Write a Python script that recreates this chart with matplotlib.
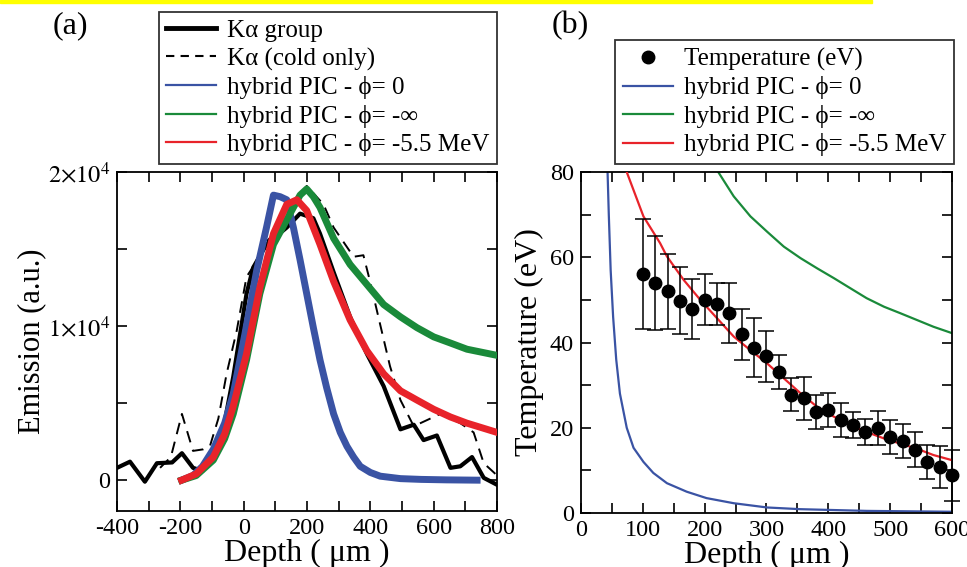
import matplotlib
matplotlib.use('Agg')
import matplotlib.pyplot as plt
from matplotlib.lines import Line2D
from matplotlib.patches import Rectangle
from matplotlib.ticker import MultipleLocator, FixedLocator, FixedFormatter

plt.rcParams['font.family'] = ['Liberation Serif', 'DejaVu Serif']
plt.rcParams['mathtext.fontset'] = 'stix'
plt.rcParams['axes.unicode_minus'] = False

BLUE = "#3a53a4"
GREEN = "#1a8a3a"
RED = "#e8232a"

# ---- panel (a): emission vs depth ----
KA_GROUP_X = [-400, -359, -312, -274, -226, -195, -160, -130, -96, -60, -33, 9, 30, 72, 136,
              178, 220, 241, 284, 336, 389, 442, 495, 537, 568, 610, 653, 684, 721, 758, 800]
KA_GROUP_Y = [800, 1200, -100, 1100, 1150, 1750, 800, 600, 1500, 3800, 6700, 12100, 13800,
              15300, 16400, 17300, 17000, 16000, 13500, 10600, 8200, 6100, 3300, 3600, 2600,
              2900, 800, 900, 1500, 150, -300]

KA_COLD_X = [-264, -230, -195, -160, -128, -106, -80, -54, -22, 9, 41, 72, 136, 199, 252, 284,
             347, 378, 399, 431, 462, 495, 537, 579, 621, 684, 726, 758, 790, 800]
KA_COLD_Y = [800, 1500, 4300, 1900, 2000, 2250, 4000, 6900, 9700, 13200, 14200, 15500, 16800,
             19100, 17900, 16400, 14500, 14600, 12900, 10100, 7400, 5200, 3500, 3900, 4300,
             3700, 3100, 1100, 500, 300]

PIC0_X = [-196, -160, -130, -96, -60, -33, 4, 41, 72, 94, 115, 136, 157, 178, 199, 220, 241,
          262, 284, 305, 326, 347, 368, 400, 431, 495, 560, 640, 737]
PIC0_Y = [0, 300, 900, 2000, 3700, 5600, 9500, 13600, 16400, 18500, 18400, 18200, 16400, 14300,
          12100, 9900, 7800, 6000, 4300, 3100, 2200, 1500, 900, 500, 260, 100, 50, 20, 0]

PICINF_X = [-196, -150, -96, -60, -33, 9, 51, 94, 136, 178, 199, 220, 241, 284, 336, 389, 442,
            495, 547, 600, 653, 705, 800]
PICINF_Y = [0, 300, 1300, 2700, 4300, 7800, 12100, 15300, 16900, 18500, 18900, 18400, 17700,
            15700, 14000, 12700, 11400, 10600, 9900, 9300, 8900, 8500, 8100]

PIC55_X = [-196, -150, -96, -60, -33, 9, 51, 94, 136, 168, 199, 241, 284, 336, 389, 442, 495,
           547, 600, 653, 705, 800]
PIC55_Y = [0, 400, 1500, 3000, 4800, 8200, 12500, 16000, 17900, 18200, 17500, 15300, 12900,
           10400, 8400, 6900, 5800, 5200, 4600, 4100, 3700, 3100]

# ---- panel (b): temperature vs depth ----
TEMP_X = [100, 120, 140, 160, 180, 200, 220, 240, 260, 280, 300, 320, 340, 360, 380, 400, 420,
          440, 460, 480, 500, 520, 540, 560, 580, 600]
TEMP_Y = [56.0, 53.9, 52.0, 49.8, 47.8, 50.0, 49.0, 46.9, 41.9, 38.8, 36.8, 33.0, 27.8, 26.9,
          23.7, 24.1, 21.8, 20.6, 19.0, 20.0, 17.9, 16.8, 14.9, 12.0, 10.8, 8.9]
TEMP_ERR = [12.9, 11.0, 8.8, 7.9, 7.0, 6.0, 5.0, 7.0, 6.0, 7.0, 6.0, 4.0, 3.8, 5.0, 4.0, 4.0,
            4.0, 3.0, 3.0, 4.0, 4.0, 4.0, 4.0, 4.0, 5.0, 6.0]

T_PIC0_X = [42, 45, 48, 52, 57, 63, 74, 85, 101, 117, 139, 171, 203, 247, 301, 355, 462, 600]
T_PIC0_Y = [85, 70, 57, 46, 36, 28, 20, 15.3, 12, 9.4, 7, 5, 3.5, 2.3, 1.3, 0.9, 0.5, 0.3]

T_PIC55_X = [70, 74, 101, 128, 139, 166, 193, 220, 247, 274, 301, 328, 355, 382, 409, 436, 462,
             490, 516, 543, 570, 600]
T_PIC55_Y = [83, 80, 69.6, 63.3, 60.2, 54.7, 50.0, 45.7, 41.4, 38.2, 35.1, 31.6, 28.1, 24.9,
             22.6, 20.6, 19.0, 17.5, 16.3, 15.1, 13.6, 12.4]

T_PICINF_X = [215, 222, 247, 274, 301, 328, 355, 382, 409, 436, 462, 490, 516, 543, 570, 600]
T_PICINF_Y = [83, 80, 74.3, 69.6, 66.0, 62.5, 59.8, 57.4, 55.1, 52.7, 50.4, 48.4, 46.9, 45.3,
              43.7, 42.2]

LBL0 = "hybrid PIC - ϕ= 0"
LBLINF = "hybrid PIC - ϕ= -∞"
LBL55 = "hybrid PIC - ϕ= -5.5 MeV"


def style_axes(ax):
    ax.tick_params(which='both', direction='in', top=True, right=True, length=7,
                   width=1.2, labelsize=17.5, pad=5)
    for sp in ax.spines.values():
        sp.set_linewidth(1.3)


fig = plt.figure(figsize=(9.67, 5.67), dpi=100)
fig.patches.append(Rectangle((0, 0.995), 0.902, 0.005, transform=fig.transFigure,
                             color='#ffff00', zorder=0))

# panel (a)
ax1 = fig.add_axes([0.121, 0.0988, 0.393, 0.5978])
ax1.plot(KA_GROUP_X, KA_GROUP_Y, color='black', lw=3.0, zorder=2)
ax1.plot(KA_COLD_X, KA_COLD_Y, color='black', lw=1.4, ls=(0, (6, 4)), zorder=2)
ax1.plot(PIC0_X, PIC0_Y, color=BLUE, lw=5, zorder=3)
ax1.plot(PICINF_X, PICINF_Y, color=GREEN, lw=5, zorder=3)
ax1.plot(PIC55_X, PIC55_Y, color=RED, lw=5, zorder=4)
ax1.set_xlim(-400, 800)
ax1.set_ylim(-2000, 20000)
ax1.xaxis.set_major_locator(MultipleLocator(200))
ax1.xaxis.set_minor_locator(MultipleLocator(100))
ax1.yaxis.set_major_locator(FixedLocator([0, 10000, 20000]))
ax1.yaxis.set_major_formatter(FixedFormatter(['0', r'$1{\times}10^4$', r'$2{\times}10^4$']))
ax1.yaxis.set_minor_locator(FixedLocator([5000, 15000]))
style_axes(ax1)
ax1.set_xlabel("Depth ( μm )", fontsize=23, labelpad=0)
ax1.set_ylabel("Emission (a.u.)", fontsize=22, labelpad=1)

handles_a = [Line2D([], [], color='black', lw=3.5),
             Line2D([], [], color='black', lw=1.5, ls=(0, (4, 3))),
             Line2D([], [], color=BLUE, lw=1.6),
             Line2D([], [], color=GREEN, lw=1.6),
             Line2D([], [], color=RED, lw=1.6)]
labels_a = ["Kα group", "Kα (cold only)", LBL0, LBLINF, LBL55]
leg1 = fig.legend(handles_a, labels_a, loc='upper left', bbox_to_anchor=(0.164, 0.979),
                  fontsize=18, frameon=True, fancybox=False, edgecolor='black',
                  handlelength=2.0, handletextpad=0.45, labelspacing=0.22, borderpad=0.3,
                  borderaxespad=0)
leg1.get_frame().set_linewidth(1.3)

# panel (b)
ax2 = fig.add_axes([0.6008, 0.0952, 0.3837, 0.6014])
ax2.plot(T_PIC0_X, T_PIC0_Y, color=BLUE, lw=1.6, zorder=2)
ax2.plot(T_PICINF_X, T_PICINF_Y, color=GREEN, lw=1.6, zorder=2)
ax2.plot(T_PIC55_X, T_PIC55_Y, color=RED, lw=1.6, zorder=3)
ax2.errorbar(TEMP_X, TEMP_Y, yerr=TEMP_ERR, fmt='o', color='black', ms=9, capsize=6,
             elinewidth=1.1, capthick=1.1, zorder=4, clip_on=False)
ax2.set_xlim(0, 600)
ax2.set_ylim(0, 80)
ax2.xaxis.set_major_locator(MultipleLocator(100))
ax2.xaxis.set_minor_locator(MultipleLocator(50))
ax2.yaxis.set_major_locator(MultipleLocator(20))
ax2.yaxis.set_minor_locator(MultipleLocator(10))
style_axes(ax2)
ax2.set_xlabel("Depth ( μm )", fontsize=23, labelpad=0)
ax2.set_ylabel("Temperature (eV)", fontsize=23, labelpad=4)

handles_b = [Line2D([], [], color='black', marker='o', ms=9, ls='none'),
             Line2D([], [], color=BLUE, lw=1.6),
             Line2D([], [], color=GREEN, lw=1.6),
             Line2D([], [], color=RED, lw=1.6)]
labels_b = ["Temperature (eV)", LBL0, LBLINF, LBL55]
leg2 = fig.legend(handles_b, labels_b, loc='upper left', bbox_to_anchor=(0.636, 0.929),
                  fontsize=18, frameon=True, fancybox=False, edgecolor='black',
                  handlelength=2.0, handletextpad=0.45, labelspacing=0.22, borderpad=0.3,
                  borderaxespad=0)
leg2.get_frame().set_linewidth(1.3)

fig.text(0.073, 0.955, "(a)", fontsize=23, ha='center', va='center')
fig.text(0.590, 0.955, "(b)", fontsize=23, ha='center', va='center')

fig.savefig("out.png", dpi=100)
